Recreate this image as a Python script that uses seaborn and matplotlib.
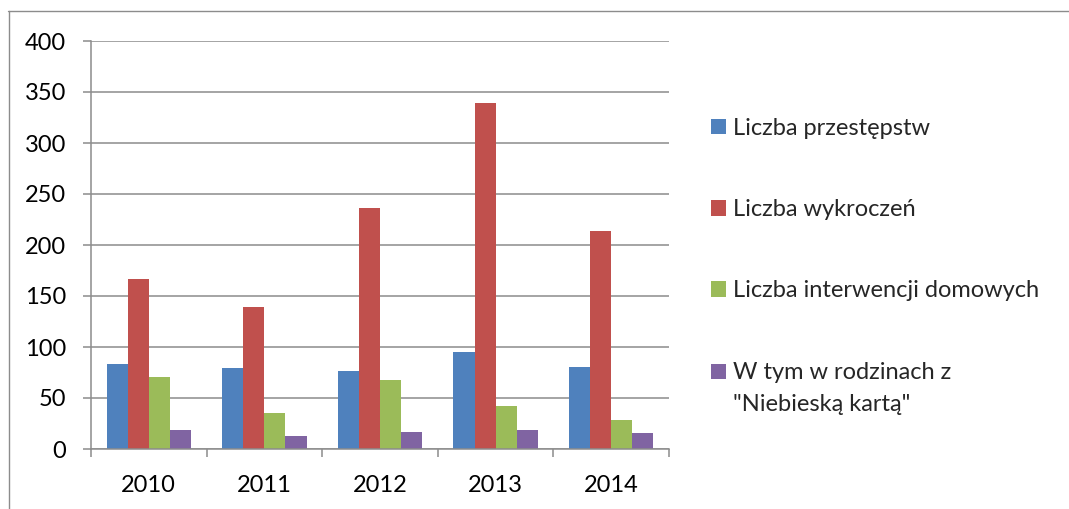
import matplotlib
matplotlib.use("Agg")
import matplotlib.pyplot as plt
import seaborn as sns
import pandas as pd
from matplotlib.lines import Line2D
from matplotlib.patches import Rectangle
from matplotlib.legend_handler import HandlerPatch
from matplotlib.ticker import FixedLocator

years = ["2010", "2011", "2012", "2013", "2014"]
series_names = [
    "Liczba przestępstw",
    "Liczba wykroczeń",
    "Liczba interwencji domowych",
    "W tym w rodzinach z\n\"Niebieską kartą\"",
]
przestepstwa = [83, 79, 76, 95, 80]
wykroczenia = [167, 139, 236, 339, 214]
interwencje = [71, 35, 68, 42, 28]
niebieska_karta = [19, 13, 17, 19, 16]
y_ticks = [0, 50, 100, 150, 200, 250, 300, 350, 400]

colors = ["#4F81BD", "#C0504D", "#9BBB59", "#8064A2"]

rows = []
for name, vals in zip(series_names, [przestepstwa, wykroczenia, interwencje, niebieska_karta]):
    for y, v in zip(years, vals):
        rows.append({"Rok": y, "Seria": name, "Wartość": v})
df = pd.DataFrame(rows)

sns.set_theme(style="white")
plt.rcParams["font.family"] = ["Lato", "DejaVu Sans"]

fig = plt.figure(figsize=(10.69, 5.09), dpi=100)
ax = fig.add_axes([91 / 1069, 1 - 449 / 509, 578 / 1069, 408 / 509])

sns.barplot(data=df, x="Rok", y="Wartość", hue="Seria", palette=colors,
            width=0.73, gap=0, saturation=1, ax=ax, legend=True, linewidth=0)

ax.set_ylim(0, 400)
ax.set_xlim(-0.5, 4.5)
ax.set_yticks(y_ticks)
ax.set_xlabel("")
ax.set_ylabel("")
ax.yaxis.grid(True, color="#8c8c8c", linewidth=1.1)
ax.set_axisbelow(True)
for s in ["top", "right"]:
    ax.spines[s].set_visible(False)
for s in ["left", "bottom"]:
    ax.spines[s].set_color("#8c8c8c")
    ax.spines[s].set_linewidth(1.1)

ax.tick_params(axis="y", which="major", length=6, width=1.1, color="#8c8c8c",
               labelsize=17, pad=12, left=True, labelcolor="black")
ax.xaxis.set_minor_locator(FixedLocator([-0.5, 0.5, 1.5, 2.5, 3.5, 4.5]))
ax.tick_params(axis="x", which="major", length=0, labelsize=17, pad=19, labelcolor="black")
ax.tick_params(axis="x", which="minor", length=6, width=1.1, color="#8c8c8c", bottom=True)

LINE_SHIFT = 12.0  # points: raise marker of a two-line label to its first line


def make_patch(shift):
    def patch_func(legend, orig_handle, xdescent, ydescent, width, height, fontsize):
        return Rectangle((-xdescent, -ydescent + shift), width, height)
    return patch_func


handles, labels = ax.get_legend_handles_labels()
ax.get_legend().remove()
handler_map = {}
for h, lab in zip(handles, labels):
    shift = LINE_SHIFT * lab.count("\n")
    handler_map[h] = HandlerPatch(patch_func=make_patch(shift))

leg = fig.legend(handles, labels, loc="upper left",
                 bbox_to_anchor=(711 / 1069, 1 - 118 / 509),
                 frameon=False, fontsize=17, handlelength=0.62, handleheight=0.62,
                 handletextpad=0.3, labelspacing=2.55, borderpad=0, borderaxespad=0,
                 handler_map=handler_map)
for t in leg.get_texts():
    t.set_linespacing(1.65)

# outer chart border (top and left edges visible)
fig.add_artist(Line2D([8 / 1069, 1], [1 - 10.5 / 509, 1 - 10.5 / 509],
                      transform=fig.transFigure, color="#8c8c8c", linewidth=1.0))
fig.add_artist(Line2D([8.5 / 1069, 8.5 / 1069], [0, 1 - 10.5 / 509],
                      transform=fig.transFigure, color="#8c8c8c", linewidth=1.0))

fig.savefig("out.png", dpi=100)
